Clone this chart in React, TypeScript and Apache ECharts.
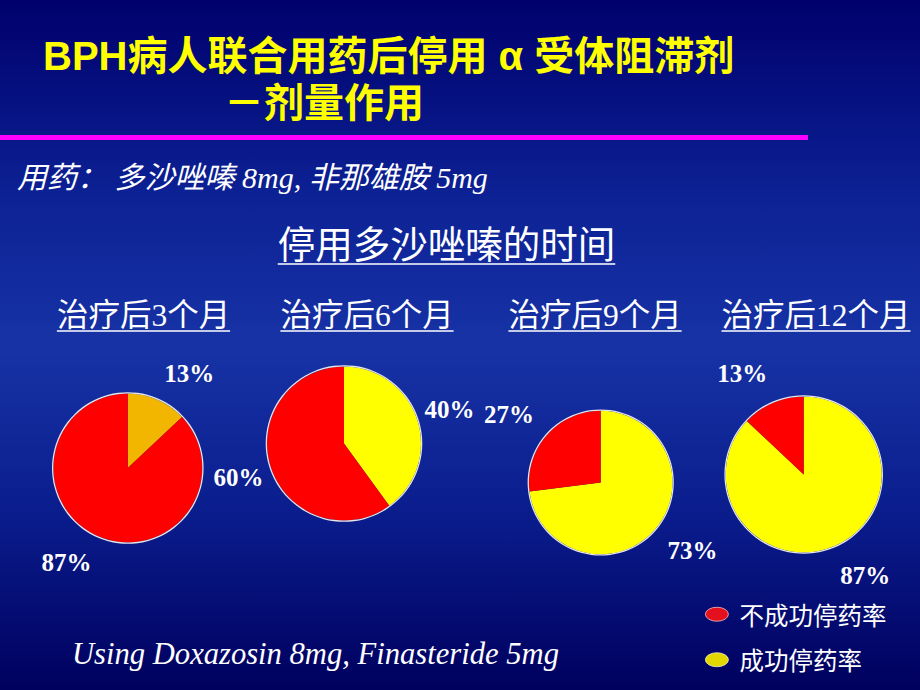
import React, { useEffect, useRef } from "react";
import * as echarts from "echarts";

// ---- data ----
const titleLine1 = "BPH病人联合用药后停用 α 受体阻滞剂";
const titleLine2 = "－剂量作用";
const subtitle = "用药： 多沙唑嗪 8mg, 非那雄胺 5mg";
const chartHeading = "停用多沙唑嗪的时间";
const footnote = "Using Doxazosin 8mg, Finasteride 5mg";
const periods = ["治疗后3个月", "治疗后6个月", "治疗后9个月", "治疗后12个月"];
const successRate = [13, 40, 73, 87];
const failRate = [87, 60, 27, 13];
const successName = "成功停药率";
const failName = "不成功停药率";

// ---- layout (positions / styles) ----
const pieLayout = [
  { cx: 127.8, cy: 468, r: 74.5, labelR: 110, labelStart: 80.5, successColor: "#f2b600" },
  { cx: 344, cy: 443.5, r: 77, labelR: 108, labelStart: 90, successColor: "#ffff00" },
  { cx: 600.7, cy: 482.5, r: 71.8, labelR: 111, labelStart: 95, successColor: "#ffff00" },
  { cx: 803.7, cy: 474.5, r: 78, labelR: 115, labelStart: 98, successColor: "#ffff00" },
];
const headingCenters = [143.5, 367, 595, 816];

const SERIF = '"Liberation Serif", "Noto Sans CJK SC", serif';
const SANS = '"Liberation Sans", "Noto Sans CJK SC", sans-serif';
const CJK = '"Noto Sans CJK SC", sans-serif';

function measure(text: string, font: string): number {
  const ctx = document.createElement("canvas").getContext("2d");
  if (!ctx) return text.length * 20;
  ctx.font = font;
  return ctx.measureText(text).width;
}

export default function App() {
  const ref = useRef<HTMLDivElement>(null);
  useEffect(() => {
    if (!ref.current) return;
    const chart = echarts.init(ref.current, undefined, { renderer: "svg" });

    const headingFont = `31.5px ${SERIF}`;
    const bigHeadFont = `37.5px ${SERIF}`;
    const graphics: any[] = [
      {
        type: "rect",
        z: -100,
        silent: true,
        shape: { x: 0, y: 0, width: 920, height: 690 },
        style: {
          fill: new echarts.graphic.LinearGradient(0, 0, 0, 1, [
            { offset: 0, color: "#00006c" },
            { offset: 0.28, color: "#0c2194" },
            { offset: 0.5, color: "#1733a6" },
            { offset: 0.75, color: "#0a1c8c" },
            { offset: 1, color: "#00005e" },
          ]),
        },
      },
      {
        type: "text",
        x: 43,
        y: 56,
        style: {
          text: titleLine1,
          fill: "#ffff00",
          fontSize: 40,
          fontWeight: "bold",
          fontFamily: SANS,
          textAlign: "left",
          textVerticalAlign: "middle",
        },
      },
      {
        type: "text",
        x: 224,
        y: 103,
        style: {
          text: titleLine2,
          fill: "#ffff00",
          fontSize: 40,
          fontWeight: "bold",
          fontFamily: SANS,
          textAlign: "left",
          textVerticalAlign: "middle",
        },
      },
      {
        type: "rect",
        shape: { x: 0, y: 135, width: 808, height: 5 },
        style: { fill: "#ff00ff" },
      },
      {
        type: "text",
        x: 17,
        y: 177,
        style: {
          text: subtitle,
          fill: "#ffffff",
          fontSize: 30,
          fontStyle: "italic",
          fontFamily: SERIF,
          textAlign: "left",
          textVerticalAlign: "middle",
        },
      },
      {
        type: "text",
        x: 446.5,
        y: 245,
        style: {
          text: chartHeading,
          fill: "#ffffff",
          fontSize: 37.5,
          fontFamily: SERIF,
          textAlign: "center",
          textVerticalAlign: "middle",
        },
      },
      (() => {
        const w = measure(chartHeading, bigHeadFont);
        return {
          type: "line",
          shape: { x1: 446.5 - w / 2, y1: 264, x2: 446.5 + w / 2, y2: 264 },
          style: { stroke: "#ffffff", lineWidth: 1.6 },
        };
      })(),
      {
        type: "text",
        x: 72,
        y: 654,
        style: {
          text: footnote,
          fill: "#ffffff",
          fontSize: 30.6,
          fontStyle: "italic",
          fontFamily: SERIF,
          textAlign: "left",
          textVerticalAlign: "middle",
        },
      },
    ];

    periods.forEach((p, i) => {
      const cx = headingCenters[i];
      const w = measure(p, headingFont);
      graphics.push({
        type: "text",
        x: cx,
        y: 315,
        style: {
          text: p,
          fill: "#ffffff",
          fontSize: 31.5,
          fontFamily: SERIF,
          textAlign: "center",
          textVerticalAlign: "middle",
        },
      });
      graphics.push({
        type: "line",
        shape: { x1: cx - w / 2, y1: 331, x2: cx + w / 2, y2: 331 },
        style: { stroke: "#ffffff", lineWidth: 1.6 },
      });
    });

    const series: any[] = [];
    pieLayout.forEach((L, i) => {
      const items = [
        { name: successName, value: successRate[i] },
        { name: failName, value: failRate[i] },
      ];
      // main pie
      series.push({
        type: "pie",
        center: [L.cx, L.cy],
        radius: L.r,
        startAngle: 90,
        clockwise: true,
        silent: true,
        label: { show: false },
        labelLine: { show: false },
        emphasis: { disabled: true },
        data: [
          { ...items[0], itemStyle: { color: L.successColor } },
          { ...items[1], itemStyle: { color: "#ff0000" } },
        ],
      });
      // thin light outline
      series.push({
        type: "pie",
        center: [L.cx, L.cy],
        radius: [L.r, L.r + 1.3],
        silent: true,
        label: { show: false },
        labelLine: { show: false },
        emphasis: { disabled: true },
        itemStyle: { color: "#e6e6e6" },
        data: [{ name: "", value: successRate[i] + failRate[i] }],
      });
      // percentage labels placed by the pie layout
      series.push({
        type: "pie",
        center: [L.cx, L.cy],
        radius: [L.labelR - 10, L.labelR + 10],
        startAngle: L.labelStart,
        clockwise: true,
        silent: true,
        emphasis: { disabled: true },
        itemStyle: { color: "rgba(0,0,0,0)" },
        labelLine: { show: false },
        label: {
          show: true,
          position: "inside",
          formatter: "{c}%",
          color: "#ffffff",
          fontFamily: SERIF,
          fontWeight: "bold",
          fontSize: 25,
        },
        data: items,
      });
    });

    const ellipse = "path://M0,7 A11.5,7 0 1,1 23,7 A11.5,7 0 1,1 0,7 Z";

    chart.setOption({
      animation: false,
      legend: {
        orient: "vertical",
        left: 705,
        top: 602,
        padding: 0,
        itemWidth: 23,
        itemHeight: 14,
        itemGap: 21,
        selectedMode: false,
        textStyle: {
          color: "#ffffff",
          fontSize: 24.5,
          lineHeight: 24,
          fontFamily: CJK,
          padding: [0, 0, 0, 6],
        },
        data: [
          { name: failName, icon: ellipse, itemStyle: { color: "#e4101e", borderColor: "#f0c0c0", borderWidth: 0.8 } },
          { name: successName, icon: ellipse, itemStyle: { color: "#e2d800", borderColor: "#f0f0c0", borderWidth: 0.8 } },
        ],
      },
      graphic: { elements: graphics },
      series,
    });

    return () => chart.dispose();
  }, []);

  return (
    <div
      ref={ref}
      style={{ position: "absolute", left: 0, top: 0, width: 920, height: 690 }}
    />
  );
}
